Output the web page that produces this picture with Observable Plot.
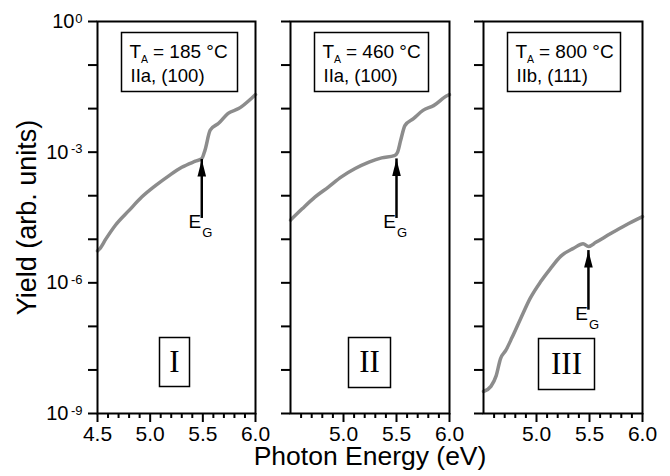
<!DOCTYPE html>
<html><head><meta charset="utf-8">
<script src="https://cdn.jsdelivr.net/npm/d3@7"></script>
<script src="https://cdn.jsdelivr.net/npm/@observablehq/plot@0.6"></script>
<style>
body{margin:0;background:#fff;}
#chart{position:relative;width:670px;height:476px;font-family:"Liberation Sans",Arial,sans-serif;}
#chart svg{position:absolute;top:0;overflow:visible;background:transparent;}
</style></head><body><div id="chart"></div>
<script>
// ---- data ----
const energyI = [4.50, 4.52, 4.58, 4.67, 4.80, 4.92, 5.05, 5.18, 5.30, 5.43, 5.49, 5.52, 5.57, 5.65, 5.74, 5.84, 5.97, 6.00];
const yieldI  = [5.4e-6, 6.0e-6, 1.02e-5, 2.1e-5, 4.6e-5, 9.3e-5, 1.7e-4, 2.9e-4, 4.5e-4, 6.2e-4, 7.1e-4, 1.1e-3, 3.2e-3, 4.6e-3, 7.8e-3, 1.0e-2, 1.8e-2, 2.1e-2];

const energyII = [4.50, 4.61, 4.73, 4.86, 4.98, 5.11, 5.24, 5.36, 5.48, 5.51, 5.54, 5.58, 5.66, 5.75, 5.85, 5.98, 6.00];
const yieldII  = [2.75e-5, 5.0e-5, 9.3e-5, 1.6e-4, 2.7e-4, 4.2e-4, 5.9e-4, 7.4e-4, 8.3e-4, 1.0e-3, 1.9e-3, 4.1e-3, 5.9e-3, 9.1e-3, 1.17e-2, 2.0e-2, 2.1e-2];

const energyIII = [4.50, 4.57, 4.62, 4.66, 4.71, 4.77, 4.85, 4.94, 5.04, 5.13, 5.23, 5.35, 5.44, 5.49, 5.56, 5.70, 5.84, 6.00];
const yieldIII  = [3.2e-9, 4.2e-9, 7.4e-9, 1.8e-8, 2.8e-8, 5.6e-8, 1.5e-7, 4.4e-7, 1.07e-6, 2.1e-6, 4.1e-6, 6.2e-6, 7.9e-6, 6.8e-6, 8.5e-6, 1.35e-5, 2.1e-5, 3.3e-5];

const panelNumerals = ["I", "II", "III"];
const annealTemps = ["185", "460", "800"];
const sampleLabels = ["IIa, (100)", "IIa, (100)", "IIb, (111)"];

const arrowEnergy = [5.49, 5.50, 5.49];
const arrowTip    = [6.8e-4, 7.0e-4, 5.5e-6];
const arrowBase   = [5.1e-5, 5.1e-5, 4.0e-7];

const xMajorTicksFirst = [4.5, 5.0, 5.5, 6.0];
const xMajorTicks = [5.0, 5.5, 6.0];
const xMinorTicks = [4.6, 4.7, 4.8, 4.9, 5.1, 5.2, 5.3, 5.4, 5.6, 5.7, 5.8, 5.9];
const yTicks = [1, 1e-1, 1e-2, 1e-3, 1e-4, 1e-5, 1e-6, 1e-7, 1e-8, 1e-9];
const yLabelValues = [1, 1e-3, 1e-6, 1e-9];
const yLabelExponents = ["0", "-3", "-6", "-9"];

const xTitle = "Photon Energy (eV)";
const yTitle = "Yield (arb. units)";

// ---- drawing ----
const series = [[energyI, yieldI], [energyII, yieldII], [energyIII, yieldIII]];
const layout = [
  {left: 0,   width: 272, ml: 97, mr: 17, box: [24, 18], num: {l: 62, r: 66, t: 316, b: 27, cx: 77, cy: 340.5}},
  {left: 272, width: 194, ml: 18, mr: 17, box: [24, 21], num: {l: 58, r: 59, t: 316, b: 26, cx: 79, cy: 341}},
  {left: 466, width: 204, ml: 17, mr: 28, box: [24, 22], num: {l: 55, r: 48, t: 317, b: 24, cx: 83, cy: 342.5}}
];
const arrowHead = {draw(ctx) { ctx.moveTo(0, 0); ctx.lineTo(4.3, 17); ctx.lineTo(-4.3, 17); ctx.closePath(); }};
const curveColor = "#8c8c8c";

const chart = document.getElementById("chart");
series.forEach(([E, Y], i) => {
  const L = layout[i];
  const data = E.map((e, j) => ({E: e, Y: Y[j]}));
  const arrow = [{x: arrowEnergy[i], tip: arrowTip[i], base: arrowBase[i]}];
  const marks = [
    Plot.line(data, {x: "E", y: "Y", stroke: curveColor, strokeWidth: 3.5, curve: "monotone-x"}),
    Plot.axisX(i === 0 ? xMajorTicksFirst : xMajorTicks, {tickSize: 9, tickPadding: 4, strokeWidth: 2, fontSize: 21, tickFormat: d => d.toFixed(1), label: null}),
    Plot.axisX(xMinorTicks, {tickSize: 5, strokeWidth: 2, tickFormat: () => "", label: null}),
    Plot.axisY(yTicks, {tickSize: 9, strokeWidth: 2, tickFormat: () => "", label: null}),
    Plot.frame({stroke: "black", strokeWidth: 2}),
    // annotation box
    Plot.frame({stroke: "black", strokeWidth: 1.5, insetLeft: L.box[0], insetRight: L.box[1], insetTop: 11, insetBottom: 322}),
    Plot.text(["T"], {text: d => d, frameAnchor: "top-left", dx: 32, dy: 36, textAnchor: "start", lineAnchor: "bottom", fontSize: 19}),
    Plot.text(["A"], {text: d => d, frameAnchor: "top-left", dx: 43.5, dy: 41.5, textAnchor: "start", lineAnchor: "bottom", fontSize: 10.5}),
    Plot.text([annealTemps[i]], {text: d => `= ${d} °C`, frameAnchor: "top-left", dx: 55.5, dy: 36, textAnchor: "start", lineAnchor: "bottom", fontSize: 19}),
    Plot.text([sampleLabels[i]], {text: d => d, frameAnchor: "top-left", dx: 33, dy: 60, textAnchor: "start", lineAnchor: "bottom", fontSize: 18.5}),
    // numeral box
    Plot.frame({stroke: "black", strokeWidth: 1.5, insetLeft: L.num.l, insetRight: L.num.r, insetTop: L.num.t, insetBottom: L.num.b}),
    Plot.text([panelNumerals[i]], {text: d => d, frameAnchor: "top-left", dx: L.num.cx, dy: L.num.cy, textAnchor: "middle", lineAnchor: "middle", fontSize: 31, fontFamily: "Liberation Serif, Times New Roman, serif"}),
    // E_G arrow
    Plot.ruleX(arrow, {x: "x", y1: "base", y2: "tip", stroke: "black", strokeWidth: 2.5, insetTop: 10}),
    Plot.dot(arrow, {x: "x", y: "tip", symbol: arrowHead, fill: "black", stroke: "none"}),
    Plot.text(arrow, {x: "x", y: "base", text: () => "E", textAnchor: "end", lineAnchor: "bottom", dx: -0.5, dy: 19.5, fontSize: 19}),
    Plot.text(arrow, {x: "x", y: "base", text: () => "G", textAnchor: "start", lineAnchor: "bottom", dx: 0.5, dy: 28.5, fontSize: 13})
  ];
  if (i === 0) {
    yLabelValues.forEach((v, k) => {
      marks.push(Plot.text([v], {y: d => d, frameAnchor: "left", text: () => "10", textAnchor: "end", lineAnchor: "middle", dx: yLabelExponents[k].length > 1 ? -29 : -23, fontSize: 20}));
    });
    marks.push(Plot.text(yLabelValues, {y: d => d, frameAnchor: "left", text: (d, k) => yLabelExponents[k], textAnchor: "end", lineAnchor: "bottom", dx: -15, dy: 1, fontSize: 13}));
    marks.push(Plot.text([yTitle], {text: d => d, frameAnchor: "left", dx: -70, rotate: -90, textAnchor: "middle", lineAnchor: "middle", fontSize: 27}));
  }
  if (i === 1) {
    marks.push(Plot.text([xTitle], {text: d => d, frameAnchor: "bottom", dy: 51, textAnchor: "middle", lineAnchor: "bottom", fontSize: 26.5}));
  }
  const svg = Plot.plot({
    width: L.width, height: 476,
    marginLeft: L.ml, marginRight: L.mr, marginTop: 21, marginBottom: 63,
    x: {domain: [4.5, 6.0]},
    y: {type: "log", domain: [1e-9, 1]},
    style: {fontFamily: "Liberation Sans, Arial, sans-serif", background: "transparent", overflow: "visible", color: "black"},
    marks
  });
  svg.style.left = L.left + "px";
  chart.appendChild(svg);
});
</script></body></html>
